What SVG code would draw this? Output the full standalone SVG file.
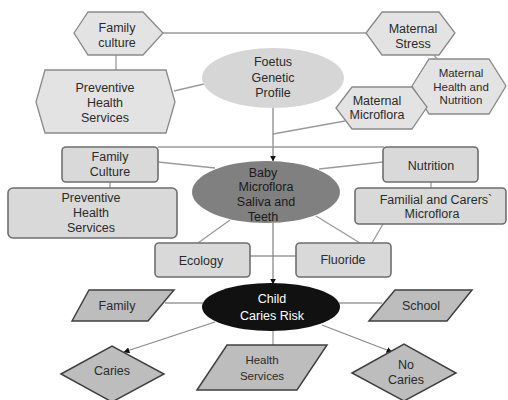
<svg xmlns="http://www.w3.org/2000/svg" width="508" height="400" viewBox="0 0 508 400">
<style>
text{font-family:"Liberation Sans",Arial,sans-serif;font-size:12.5px;fill:#2b2b2b;text-anchor:middle}
.hex{fill:#e3e3e3;stroke:#8a8a8a;stroke-width:1.3}
.box{fill:#d9d9d9;stroke:#6e6e6e;stroke-width:1.6}
.shp{fill:#bdbdbd;stroke:#404040;stroke-width:1.5}
.ln{stroke:#9a9a9a;stroke-width:1.3;fill:none}
.ar{stroke:#8a8a8a;stroke-width:1.3;fill:none}
</style>
<defs>
<marker id="ah" viewBox="0 0 10 10" refX="9" refY="5" markerWidth="6" markerHeight="6" orient="auto" markerUnits="userSpaceOnUse">
<path d="M0,0 L10,5 L0,10 z" fill="#111"/>
</marker>
</defs>
<rect width="508" height="400" fill="#fff"/>
<g id="connectors">
<line class="ln" x1="163" y1="33" x2="366" y2="33"/>
<line class="ln" x1="116" y1="55" x2="116" y2="70"/>
<line class="ln" x1="174" y1="91" x2="204" y2="84"/>
<line class="ln" x1="434" y1="55" x2="437" y2="59"/>
<line class="ln" x1="427" y1="107" x2="432" y2="104"/>
<line class="ln" x1="345" y1="121" x2="273" y2="134"/>
<line class="ar" x1="273" y1="108" x2="273" y2="161" marker-end="url(#ah)"/>
<line class="ln" x1="158" y1="147" x2="384" y2="147"/>
<line class="ln" x1="158" y1="162" x2="215" y2="168"/>
<line class="ln" x1="110" y1="182" x2="110" y2="188"/>
<line class="ln" x1="319" y1="169" x2="383" y2="162"/>
<line class="ln" x1="431" y1="182" x2="431" y2="188"/>
<line class="ln" x1="230" y1="220" x2="198" y2="243"/>
<line class="ln" x1="316" y1="216" x2="360" y2="243"/>
<line class="ln" x1="383" y1="224" x2="372" y2="243"/>
<line class="ln" x1="250" y1="256" x2="296" y2="256"/>
<line class="ar" x1="273" y1="223" x2="273" y2="284" marker-end="url(#ah)"/>
<line class="ln" x1="165" y1="303" x2="203" y2="303"/>
<line class="ln" x1="339" y1="303" x2="382" y2="303"/>
<line class="ln" x1="273" y1="330" x2="273" y2="345"/>
<line class="ar" x1="215" y1="322" x2="124" y2="352" marker-end="url(#ah)"/>
<line class="ar" x1="322" y1="325" x2="392" y2="352" marker-end="url(#ah)"/>
</g>
<g id="family-culture-hex">
<polygon class="hex" points="74,33 88,12 143,12 163,33 143,55 88,55"/>
<text x="117" y="32">Family</text>
<text x="117" y="47">culture</text>
</g>
<g id="maternal-stress">
<polygon class="hex" points="366,33 382,12 439,12 455,33 439,55 382,55"/>
<text x="413" y="33">Maternal</text>
<text x="413" y="48">Stress</text>
</g>
<g id="preventive-hex">
<polygon class="hex" points="36,102 45,70 166,70 175,102 166,133 45,133"/>
<text x="105" y="92">Preventive</text>
<text x="105" y="107">Health</text>
<text x="105" y="122">Services</text>
</g>
<g id="foetus">
<ellipse cx="273" cy="78" rx="71" ry="30" fill="#d6d6d6"/>
<text x="273" y="66">Foetus</text>
<text x="273" y="82">Genetic</text>
<text x="273" y="97">Profile</text>
</g>
<g id="maternal-health">
<polygon class="hex" points="412,86 429,59 489,59 506,86 489,114 429,114"/>
<text x="461" y="77" style="font-size:11.5px">Maternal</text>
<text x="461" y="91" style="font-size:11.5px">Health and</text>
<text x="461" y="104" style="font-size:11.5px">Nutrition</text>
</g>
<g id="maternal-microflora">
<polygon class="hex" points="336,108 352,87 412,87 427,107 412,129 352,129"/>
<text x="377" y="105">Maternal</text>
<text x="377" y="119">Microflora</text>
</g>
<g id="family-culture-box">
<rect class="box" x="62" y="147" width="96" height="35" rx="4"/>
<text x="110" y="161">Family</text>
<text x="110" y="176">Culture</text>
</g>
<g id="nutrition">
<rect class="box" x="383" y="147" width="95" height="35" rx="4"/>
<text x="431" y="170">Nutrition</text>
</g>
<g id="preventive-box">
<rect class="box" x="8" y="188" width="169" height="50" rx="5"/>
<text x="91" y="202">Preventive</text>
<text x="91" y="217">Health</text>
<text x="91" y="232">Services</text>
</g>
<g id="familial">
<rect class="box" x="355" y="188" width="151" height="36" rx="4"/>
<text x="436" y="204">Familial and Carers`</text>
<text x="432" y="218">Microflora</text>
</g>
<g id="baby">
<ellipse cx="266" cy="192" rx="74" ry="31" fill="#808080"/>
<text x="263" y="177" style="fill:#1a1a1a">Baby</text>
<text x="266" y="191" style="fill:#1a1a1a">Microflora</text>
<text x="266" y="206" style="fill:#1a1a1a">Saliva and</text>
<text x="263" y="221" style="fill:#1a1a1a">Teeth</text>
</g>
<g id="ecology">
<rect class="box" x="155" y="243" width="95" height="34" rx="4"/>
<text x="201" y="265">Ecology</text>
</g>
<g id="fluoride">
<rect class="box" x="296" y="243" width="95" height="34" rx="4"/>
<text x="343" y="264">Fluoride</text>
</g>
<g id="child">
<ellipse cx="271" cy="307" rx="69" ry="24" fill="#111"/>
<text x="272" y="303" style="fill:#fff">Child</text>
<text x="272" y="320" style="fill:#fff">Caries Risk</text>
</g>
<g id="family-para">
<polygon class="shp" points="72,321 89,290 174,290 148,321"/>
<text x="117" y="310">Family</text>
</g>
<g id="school">
<polygon class="shp" points="369,321 395,290 472,290 447,321"/>
<text x="421" y="310">School</text>
</g>
<g id="caries">
<polygon class="shp" points="61,374 112,346 164,374 112,402"/>
<text x="112" y="375">Caries</text>
</g>
<g id="health-services">
<polygon class="shp" points="197,390 227,345 327,345 297,390"/>
<text x="262" y="364" style="font-size:11.5px">Health</text>
<text x="262" y="380" style="font-size:11.5px">Services</text>
</g>
<g id="no-caries">
<polygon class="shp" points="352,373 404,344 456,373 404,401"/>
<text x="406" y="369">No</text>
<text x="406" y="384">Caries</text>
</g>
</svg>
